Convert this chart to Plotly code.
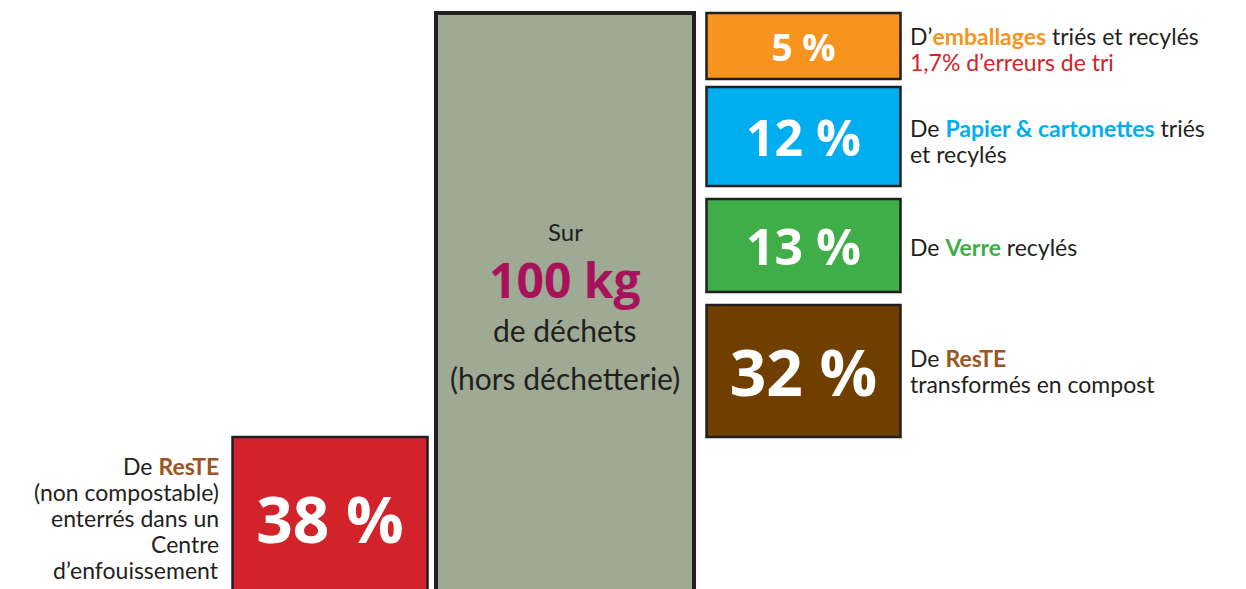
import plotly.graph_objects as go

# données
categories = ['emballages', 'Papier & cartonettes', 'Verre', 'ResTE', 'ResTE']
percentages = [5, 12, 13, 32, 38]
total_kg = 100
box_colors = ['#f7941d', '#00aeef', '#3fae49', '#703f00', '#d2232a']
label_colors = ['#f7941d', '#00aeef', '#3fae49', '#9a5524', '#9a5524']

# mise en page (pixels)
right_x, right_w = 803.5, 194
right_top = [13, 87, 199, 305]
right_h = [66, 99, 93, 132]
num_sizes = [37, 50, 50, 64, 64]
left_x, left_w, left_top = 330, 195, 437
main_x, main_w, main_top = 565, 258, 13

FONT = 'Lato'
BOLD_FONT = 'Open Sans'
DARK = '#231f20'

fig = go.Figure()

# barre 100 kg
fig.add_trace(go.Bar(x=[main_x], y=[600 - main_top], base=[main_top], width=[main_w],
                     marker=dict(color='#9eaa93', line=dict(color=DARK, width=4)),
                     hoverinfo='skip'))

for i, p in enumerate(percentages):
    if i < 4:
        x, w, top, h = right_x, right_w, right_top[i], right_h[i]
    else:
        x, w, top, h = left_x, left_w, left_top, 600 - left_top
    fig.add_trace(go.Bar(x=[x], y=[h], base=[top], width=[w],
                         marker=dict(color=box_colors[i], line=dict(color=DARK, width=2.5)),
                         text=[f'<b>{p} %</b>'], textposition='inside', insidetextanchor='middle',
                         textangle=0, constraintext='none',
                         textfont=dict(family=BOLD_FONT, size=num_sizes[i], color='white'),
                         hoverinfo='skip'))


def span(txt, color, bold=True):
    t = f'<b>{txt}</b>' if bold else txt
    return f"<span style='color:{color}'>{t}</span>"


# textes à droite: (y, texte)
right_lines = [
    (36, 'D’' + span(categories[0], label_colors[0]) + ' triés et recylés'),
    (62, span('1,7% d’erreurs de tri', '#d2232a', bold=False)),
    (128, 'De ' + span(categories[1], label_colors[1]) + ' triés'),
    (154, 'et recylés'),
    (247, 'De ' + span(categories[2], label_colors[2]) + ' recylés'),
    (358, 'De ' + span(categories[3], label_colors[3])),
    (384, 'transformés en compost'),
]
for y, t in right_lines:
    fig.add_annotation(x=908, y=y, text=t, showarrow=False, xanchor='left', yanchor='middle',
                       font=dict(family=FONT, size=23, color=DARK))

left_lines = [
    (466, 'De ' + span(categories[4], label_colors[4])),
    (492, '(non compostable)'),
    (518, 'enterrés dans un'),
    (544, 'Centre'),
    (570, 'd’enfouissement'),
]
for y, t in left_lines:
    fig.add_annotation(x=221, y=y, text=t, showarrow=False, xanchor='right', yanchor='middle',
                       font=dict(family=FONT, size=23, color=DARK))

# texte central
center_lines = [
    (231, 'Sur', 24, DARK, FONT),
    (279, f'<b>{total_kg} kg</b>', 48, '#a7135b', BOLD_FONT),
    (330, 'de déchets', 30, DARK, FONT),
    (378, '(hors déchetterie)', 30, DARK, FONT),
]
for y, t, s, c, f in center_lines:
    fig.add_annotation(x=main_x, y=y, text=t, showarrow=False, xanchor='center', yanchor='middle',
                       font=dict(family=f, size=s, color=c))

fig.update_layout(
    width=1246, height=589, margin=dict(l=0, r=0, t=0, b=0),
    plot_bgcolor='white', paper_bgcolor='white', showlegend=False, barmode='overlay',
    xaxis=dict(range=[0, 1246], visible=False, fixedrange=True),
    yaxis=dict(range=[589, 0], visible=False, fixedrange=True),
)

fig.write_html('out.html', config={'displayModeBar': False},
               post_script="document.body.style.margin='0';")
